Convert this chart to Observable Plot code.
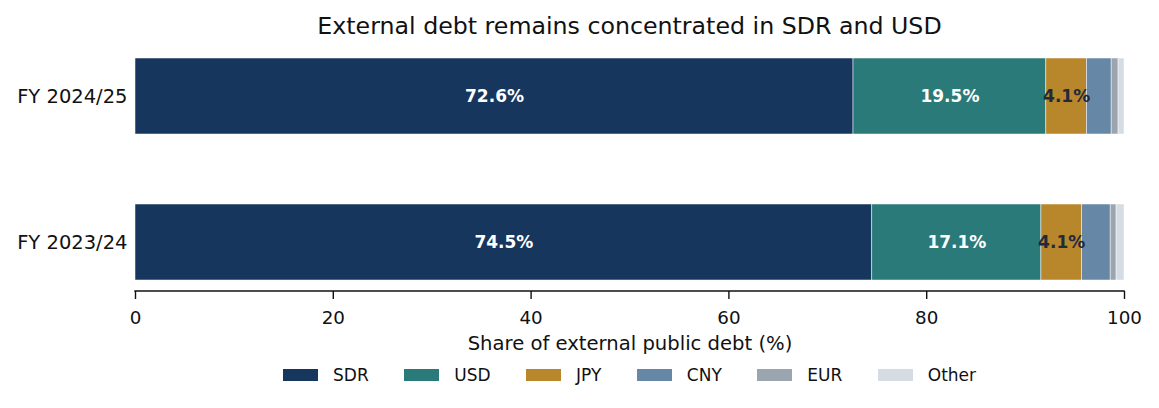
<!DOCTYPE html>
<html>
<head>
<meta charset="utf-8">
<script src="https://cdn.jsdelivr.net/npm/d3@7"></script>
<script src="https://cdn.jsdelivr.net/npm/@observablehq/plot@0.6"></script>
<style>
  body { margin: 0; background: #fff; font-family: "DejaVu Sans", sans-serif; }
  #wrap { width: 1159px; }
  #title { height: 45px; line-height: 53px; box-sizing: border-box; padding-left: 135px; padding-right: 35px; text-align: center; font-size: 23.7px; color: #111; white-space: nowrap; }
  #legend { display: flex; justify-content: flex-start; margin-top: 0; padding-left: 283px; }
  .lg-swatches { font-family: "DejaVu Sans", sans-serif !important; font-size: 17px !important; color: #111; margin-left: 0 !important; }
  .lg-swatch { margin-right: 35.5px !important; }
  .lg-swatch > svg { margin-right: 15px !important; }
</style>
</head>
<body>
<div id="wrap">
  <div id="title">External debt remains concentrated in SDR and USD</div>
  <div id="chart"></div>
  <div id="legend"></div>
</div>
<script>
const years = ["FY 2024/25", "FY 2023/24"];
const currencies = ["SDR", "USD", "JPY", "CNY", "EUR", "Other"];
const share2425 = [72.6, 19.5, 4.1, 2.5, 0.7, 0.6];
const share2324 = [74.5, 17.1, 4.1, 2.9, 0.6, 0.8];
const colors = ["#17365d", "#2b7a7a", "#b8862b", "#6688a6", "#9aa5b0", "#d6dce3"];
const labelColors = ["#ffffff", "#ffffff", "#1f2a3c", "#ffffff", "#ffffff", "#ffffff"];
const xTicks = [0, 20, 40, 60, 80, 100];

const rows = [];
[share2425, share2324].forEach((vals, i) => {
  vals.forEach((v, j) => rows.push({year: years[i], currency: currencies[j], value: v, lc: labelColors[j]}));
});

const height = 313, marginBottom = 67;
const plot = Plot.plot({
  width: 1159,
  height,
  marginLeft: 135,
  marginRight: 35,
  marginTop: 2,
  marginBottom,
  style: {fontFamily: "DejaVu Sans, sans-serif", fontSize: "18px", color: "#111"},
  x: {domain: [0, 100], ticks: xTicks, label: null},
  y: {domain: years, paddingInner: 0.479, paddingOuter: 0.075, label: null},
  color: {domain: currencies, range: colors},
  marks: [
    Plot.barX(rows, Plot.stackX({x: "value", y: "year", fill: "currency", order: currencies, stroke: "white", strokeWidth: 0.5})),
    Plot.text(rows.filter(d => d.value >= 4), Plot.stackX({
      x: "value", y: "year", z: "currency", order: currencies,
      text: d => d.value.toFixed(1) + "%",
      fill: "lc", fontWeight: "bold", fontSize: 17
    })),
    Plot.axisX({ticks: xTicks, tickSize: 8, tickPadding: 11, fontSize: 18.3, strokeWidth: 1.4,
      label: "Share of external public debt (%)", labelArrow: "none", labelAnchor: "center", labelOffset: 58}),
    Plot.axisY({tickSize: 0, tickPadding: 8, fontSize: 19.5})
  ]
});
// bottom axis domain line, positioned from the plot's own x scale
const xs = plot.scale("x");
d3.select(plot).append("line")
  .attr("x1", xs.apply(0) - 0.7).attr("x2", xs.apply(100) + 0.7)
  .attr("y1", height - marginBottom).attr("y2", height - marginBottom)
  .attr("stroke", "#111").attr("stroke-width", 1.5);
// make the axis label larger than the tick labels
d3.select(plot).selectAll("g[aria-label='x-axis label'] text").attr("font-size", 19.6);
document.getElementById("chart").appendChild(plot);

const leg = plot.legend("color", {className: "lg", swatchWidth: 35, swatchHeight: 12});
document.getElementById("legend").appendChild(leg);
</script>
</body>
</html>
